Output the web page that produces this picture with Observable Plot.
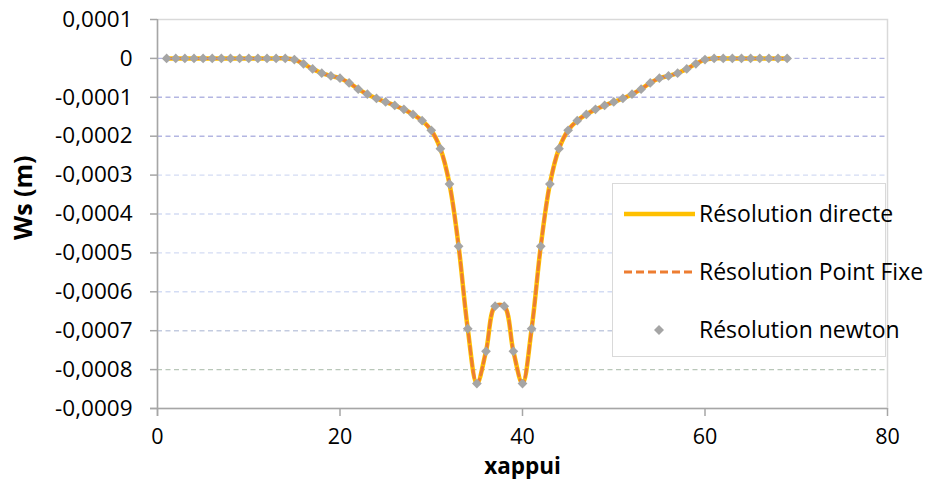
<!DOCTYPE html>
<html>
<head>
<meta charset="utf-8">
<script src="https://cdn.jsdelivr.net/npm/d3@7"></script>
<script src="https://cdn.jsdelivr.net/npm/@observablehq/plot@0.6"></script>
<style>
  html, body { margin: 0; padding: 0; background: white; }
  #wrap { position: relative; width: 928px; height: 479px; font-family: "Open Sans", Lato, sans-serif; }
  #legend { position: absolute; left: 612px; top: 183px; width: 274px; height: 174px;
            border: 1.5px solid #d9d9d9; background: white; box-sizing: border-box; overflow: visible; }
  .entry { position: absolute; left: 0; white-space: nowrap; font-size: 23px; color: #000; }
  .entry svg { position: absolute; left: 0; top: 0; overflow: visible; }
  .entry span { position: absolute; left: 86px; top: -17px; }
</style>
</head>
<body>
<div id="wrap">
  <div id="chart"></div>
  <div id="legend"></div>
</div>
<script>
// ---- data ----
const xappui = [1,2,3,4,5,6,7,8,9,10,11,12,13,14,15,16,17,18,19,20,21,22,23,24,25,26,27,28,29,30,
  31,32,33,34,35,36,37,38,39,40,41,42,43,44,45,46,47,48,49,50,51,52,53,54,55,56,57,58,59,60,
  61,62,63,64,65,66,67,68,69];

const wsDirecte = [0,0,0,0,0,0,0,0,0,0,0,0,0,0,
  -0.000003,-0.000014,-0.000027,-0.000038,-0.000045,-0.000051,-0.000063,-0.000079,-0.000092,-0.000103,
  -0.000112,-0.000121,-0.000131,-0.000144,-0.000160,-0.000185,-0.000232,-0.000323,-0.000483,-0.000695,
  -0.000836,-0.000753,-0.000637,-0.000637,-0.000753,-0.000836,-0.000695,-0.000483,-0.000323,-0.000232,
  -0.000185,-0.000160,-0.000144,-0.000131,-0.000121,-0.000112,-0.000103,-0.000092,-0.000079,-0.000063,
  -0.000051,-0.000045,-0.000038,-0.000027,-0.000014,-0.000003,
  0,0,0,0,0,0,0,0,0];

const wsPointFixe = [0,0,0,0,0,0,0,0,0,0,0,0,0,0,
  -0.000003,-0.000014,-0.000027,-0.000038,-0.000045,-0.000051,-0.000063,-0.000079,-0.000092,-0.000103,
  -0.000112,-0.000121,-0.000131,-0.000144,-0.000160,-0.000185,-0.000232,-0.000323,-0.000483,-0.000695,
  -0.000836,-0.000753,-0.000637,-0.000637,-0.000753,-0.000836,-0.000695,-0.000483,-0.000323,-0.000232,
  -0.000185,-0.000160,-0.000144,-0.000131,-0.000121,-0.000112,-0.000103,-0.000092,-0.000079,-0.000063,
  -0.000051,-0.000045,-0.000038,-0.000027,-0.000014,-0.000003,
  0,0,0,0,0,0,0,0,0];

const wsNewton = [0,0,0,0,0,0,0,0,0,0,0,0,0,0,
  -0.000003,-0.000014,-0.000027,-0.000038,-0.000045,-0.000051,-0.000063,-0.000079,-0.000092,-0.000103,
  -0.000112,-0.000121,-0.000131,-0.000144,-0.000160,-0.000185,-0.000232,-0.000323,-0.000483,-0.000695,
  -0.000836,-0.000753,-0.000637,-0.000637,-0.000753,-0.000836,-0.000695,-0.000483,-0.000323,-0.000232,
  -0.000185,-0.000160,-0.000144,-0.000131,-0.000121,-0.000112,-0.000103,-0.000092,-0.000079,-0.000063,
  -0.000051,-0.000045,-0.000038,-0.000027,-0.000014,-0.000003,
  0,0,0,0,0,0,0,0,0];

const seriesNames = ["Résolution directe", "Résolution Point Fixe", "Résolution newton"];
const xTicks = [0, 20, 40, 60, 80];
const yTicks = [0.0001, 0, -0.0001, -0.0002, -0.0003, -0.0004, -0.0005, -0.0006, -0.0007, -0.0008, -0.0009];
const gridValues = [0, -0.0001, -0.0002, -0.0003, -0.0004, -0.0005, -0.0006, -0.0007, -0.0008];
const xLabel = "xappui";
const yLabel = "Ws (m)";

// ---- styles ----
const colDirecte = "#FFC000", colPF = "#ED7D31", colNewton = "#A5A5A5", axisCol = "#a6a6a6";
function gridColor(v) {
  if (v >= -0.00025) return "#b3b6e2";
  if (v >= -0.00065) return "#d3dcf4";
  if (v >= -0.00075) return "#c3cbe0";
  return "#b9c7b9";
}

const rows = (arr) => xappui.map((x, i) => ({x, y: arr[i]}));
const fmt = (d) => d === 0 ? "0" : d.toFixed(4).replace(".", ",");

const chart = Plot.plot({
  width: 928,
  height: 479,
  marginLeft: 157,
  marginRight: 41,
  marginTop: 19,
  marginBottom: 71,
  style: {fontFamily: "'Open Sans', Lato, sans-serif", fontSize: "22.5px", color: "#000", background: "white"},
  x: {domain: [0, 80]},
  y: {domain: [-0.0009, 0.0001]},
  marks: [
    Plot.frame({stroke: "#d9d9d9", strokeWidth: 1.5}),
    Plot.ruleY(gridValues, {stroke: gridColor, strokeDasharray: "5,3.5", strokeWidth: 1.4}),
    Plot.ruleX([0], {stroke: axisCol, strokeWidth: 1.5, insetBottom: -8}),
    Plot.ruleY([-0.0009], {stroke: axisCol, strokeWidth: 1.5, insetLeft: -7}),
    Plot.axisY({ticks: yTicks, tickFormat: fmt, tickSize: 7, tickPadding: 18, stroke: axisCol, strokeWidth: 1.5, fill: "#000", label: null}),
    Plot.axisX({ticks: xTicks, tickSize: 8, tickPadding: 12, fontSize: 21.5, stroke: axisCol, strokeWidth: 1.5, fill: "#000", label: null}),
    Plot.text([yLabel], {frameAnchor: "left", rotate: -90, dx: -134, dy: 26, fontWeight: "bold", fontSize: 25, fill: "#000"}),
    Plot.text([xLabel], {frameAnchor: "bottom", dy: 65, fontWeight: "bold", fontSize: 22.5, fill: "#000"}),
    Plot.line(rows(wsDirecte), {x: "x", y: "y", curve: "catmull-rom", stroke: colDirecte, strokeWidth: 4.5}),
    Plot.line(rows(wsPointFixe), {x: "x", y: "y", curve: "catmull-rom", stroke: colPF, strokeWidth: 3, strokeDasharray: "8,4"}),
    Plot.dot(rows(wsNewton), {x: "x", y: "y", symbol: "diamond2", r: 4.4, fill: colNewton, stroke: "none"})
  ]
});
document.getElementById("chart").appendChild(chart);

// ---- legend (overlay inside plot area) ----
const legend = document.getElementById("legend");
const swatches = [
  `<svg width="80" height="10"><line x1="11" x2="82" y1="0" y2="0" stroke="${colDirecte}" stroke-width="4.5"/></svg>`,
  `<svg width="80" height="10"><line x1="11" x2="82" y1="0" y2="0" stroke="${colPF}" stroke-width="3" stroke-dasharray="8,4"/></svg>`,
  `<svg width="80" height="10"><path d="M46,-5L51,0L46,5L41,0Z" fill="${colNewton}"/></svg>`
];
const tops = [30, 88, 146];
seriesNames.forEach((name, i) => {
  const e = document.createElement("div");
  e.className = "entry";
  e.style.top = tops[i] + "px";
  e.innerHTML = swatches[i] + `<span>${name}</span>`;
  legend.appendChild(e);
});
</script>
</body>
</html>
